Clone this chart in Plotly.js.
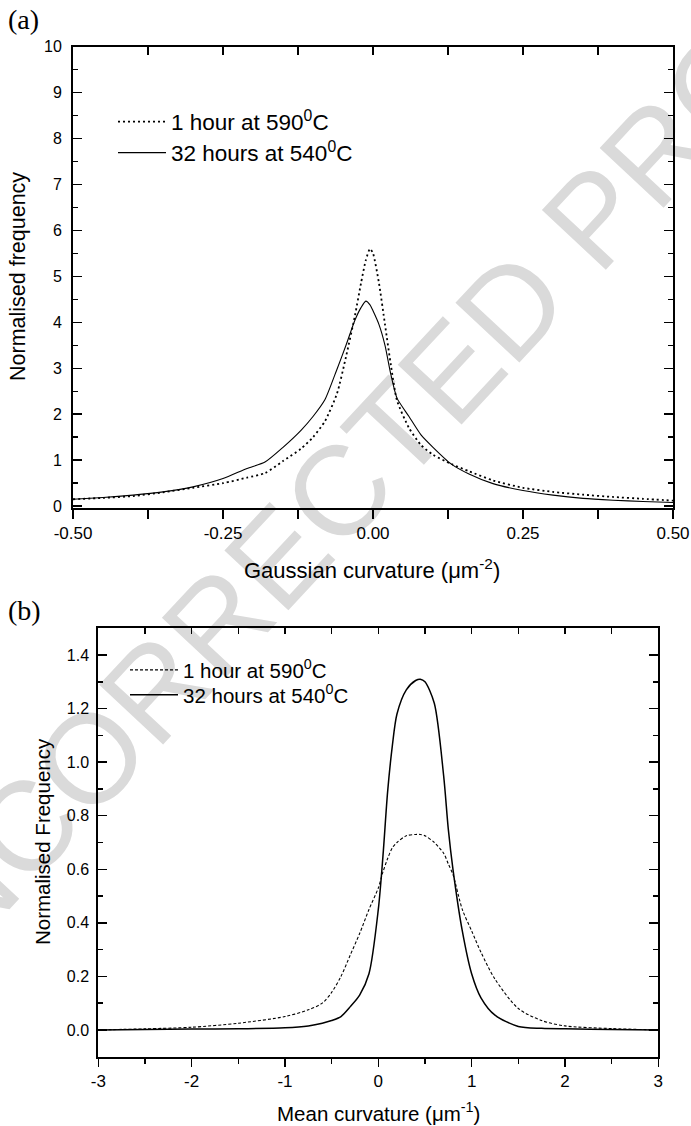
<!DOCTYPE html>
<html>
<head>
<meta charset="utf-8">
<script src="https://cdn.plot.ly/plotly-3.0.1.min.js"></script>
<style>
html,body{margin:0;padding:0;background:#ffffff;}
#chart{width:691px;height:1126px;}
</style>
</head>
<body>
<div id="chart"></div>
<script>
// ---------- Panel (a): Gaussian curvature ----------
const gaussX = [-0.5,-0.45,-0.4,-0.35,-0.3,-0.25,-0.21,-0.18,-0.15,-0.12,-0.1,-0.08,-0.06,-0.045,-0.03,-0.02,-0.012,-0.005,0,0.01,0.02,0.03,0.04,0.06,0.08,0.1,0.13,0.16,0.2,0.25,0.3,0.35,0.4,0.45,0.5];
const gauss1h590 = [0.15,0.18,0.22,0.30,0.40,0.50,0.62,0.72,0.98,1.25,1.50,1.85,2.45,3.25,4.15,4.85,5.35,5.60,5.50,4.85,3.95,3.05,2.30,1.70,1.33,1.12,0.92,0.76,0.56,0.40,0.31,0.25,0.20,0.16,0.12];
const gauss32h540 = [0.15,0.19,0.24,0.31,0.42,0.60,0.82,0.96,1.28,1.65,1.95,2.32,2.98,3.50,4.05,4.32,4.46,4.38,4.25,3.95,3.50,2.85,2.35,1.95,1.55,1.28,0.92,0.70,0.49,0.34,0.24,0.17,0.13,0.10,0.08];
const gaussTickVals = [-0.5,-0.25,0,0.25,0.5];
const gaussTickText = ['-0.50','-0.25','0.00','0.25','0.50'];
const gaussTopTickVals = [-0.5,-0.375,-0.25,-0.125,0,0.125,0.25,0.375,0.5];
const gaussYTickVals = [0,1,2,3,4,5,6,7,8,9,10];
const gaussYTickText = ['0','1','2','3','4','5','6','7','8','9','10'];

// ---------- Panel (b): Mean curvature ----------
const meanX = [-3,-2.5,-2,-1.5,-1,-0.75,-0.6,-0.5,-0.4,-0.3,-0.2,-0.1,0,0.05,0.1,0.15,0.2,0.3,0.4,0.45,0.5,0.6,0.7,0.75,0.8,0.9,1.0,1.1,1.25,1.5,1.75,2,2.5,3];
const mean1h590 = [0.0,0.004,0.01,0.025,0.05,0.075,0.10,0.14,0.20,0.28,0.36,0.45,0.53,0.59,0.64,0.68,0.70,0.725,0.73,0.73,0.725,0.70,0.66,0.62,0.58,0.45,0.37,0.29,0.19,0.08,0.035,0.015,0.005,0.0];
const mean32h540 = [0.0,0.002,0.003,0.004,0.008,0.015,0.025,0.035,0.05,0.087,0.13,0.21,0.45,0.65,0.89,1.06,1.18,1.27,1.305,1.31,1.30,1.22,0.95,0.75,0.60,0.37,0.21,0.12,0.055,0.013,0.006,0.004,0.002,0.0];
const meanTickVals = [-3,-2,-1,0,1,2,3];
const meanTickText = ['-3','-2','-1','0','1','2','3'];
const meanTopTickVals = [-3,-2.5,-2,-1.5,-1,-0.5,0,0.5,1,1.5,2,2.5,3];
const meanYTickVals = [0,0.2,0.4,0.6,0.8,1.0,1.2,1.4];
const meanYTickText = ['0.0','0.2','0.4','0.6','0.8','1.0','1.2','1.4'];

const seriesNames = ['1 hour at 590<sup>0</sup>C', '32 hours at 540<sup>0</sup>C'];

// ---------- layout helpers (pixel -> paper) ----------
const W = 691, H = 1126;
const px = v => v / W;
const py = v => 1 - v / H;
const FONT = 'Liberation Sans, Arial, Helvetica, sans-serif';
const SERIF = 'Liberation Serif, Times New Roman, serif';

const traces = [
  {x: gaussX, y: gauss1h590, xaxis:'x', yaxis:'y', type:'scatter', mode:'lines', name: seriesNames[0],
   line:{color:'#000', width:1.8, dash:'2px,3px', shape:'spline', smoothing:0.6}, legend:'legend', hoverinfo:'skip'},
  {x: gaussX, y: gauss32h540, xaxis:'x', yaxis:'y', type:'scatter', mode:'lines', name: seriesNames[1],
   line:{color:'#000', width:1.1, shape:'spline', smoothing:0.6}, legend:'legend2', hoverinfo:'skip'},
  {x: meanX, y: mean1h590, xaxis:'x2', yaxis:'y2', type:'scatter', mode:'lines', name: seriesNames[0],
   line:{color:'#000', width:1.1, dash:'3px,2px', shape:'spline', smoothing:0.8}, legend:'legend3', hoverinfo:'skip'},
  {x: meanX, y: mean32h540, xaxis:'x2', yaxis:'y2', type:'scatter', mode:'lines', name: seriesNames[1],
   line:{color:'#000', width:1.5, shape:'spline', smoothing:0.8}, legend:'legend4', hoverinfo:'skip'},
  // empty carriers for the top (inward-tick) axes
  {x: [], y: [], xaxis:'x3', yaxis:'y', type:'scatter', mode:'lines', showlegend:false, hoverinfo:'skip'},
  {x: [], y: [], xaxis:'x4', yaxis:'y2', type:'scatter', mode:'lines', showlegend:false, hoverinfo:'skip'}
];

const baseAxis = {showgrid:false, zeroline:false, showline:true, linecolor:'#000', linewidth:2,
                  tickcolor:'#000', tickwidth:1.5, fixedrange:true};

const legendBase = {bgcolor:'rgba(0,0,0,0)', borderwidth:0, xanchor:'left', yanchor:'middle',
                    itemwidth:48, tracegroupgap:0};

const layout = {
  width: W, height: H,
  margin: {l:0, r:0, t:0, b:0, pad:0},
  paper_bgcolor: '#ffffff',
  plot_bgcolor: 'rgba(0,0,0,0)',
  font: {family: FONT, color:'#000'},
  xaxis: Object.assign({}, baseAxis, {
    domain:[px(73), px(673)], range:[-0.5,0.5], anchor:'y',
    tickmode:'array', tickvals: gaussTickVals, ticktext: gaussTickText,
    ticks:'outside', ticklen:9, mirror:true, tickfont:{family:FONT, size:17, color:'#000'},
    minor:{tickmode:'linear', tick0:-0.5, dtick:0.125, ticks:'outside', ticklen:9, tickwidth:1.5, tickcolor:'#000', showgrid:false}
  }),
  xaxis3: {overlaying:'x', anchor:'y', side:'top', range:[-0.5,0.5], tickmode:'array', tickvals: gaussTopTickVals,
    ticks:'inside', ticklen:8, tickwidth:1.5, tickcolor:'#000', showticklabels:false, showline:false,
    showgrid:false, zeroline:false, fixedrange:true},
  yaxis: Object.assign({}, baseAxis, {
    domain:[py(508), py(46.5)], range:[-0.04,10], anchor:'x',
    tickmode:'array', tickvals: gaussYTickVals, ticktext: gaussYTickText,
    ticks:'inside', ticklen:9, mirror:'ticks', ticklabelstandoff:6, tickfont:{family:FONT, size:16, color:'#000'},
    minor:{tickmode:'linear', tick0:0, dtick:0.5, ticks:'inside', ticklen:5, tickwidth:1.5, tickcolor:'#000', showgrid:false}
  }),
  xaxis2: Object.assign({}, baseAxis, {
    domain:[px(98.3), px(658.3)], range:[-3,3], anchor:'y2',
    tickmode:'array', tickvals: meanTickVals, ticktext: meanTickText,
    ticks:'outside', ticklen:8, mirror:true, tickfont:{family:FONT, size:17, color:'#000'},
    minor:{tickmode:'linear', tick0:0, dtick:0.5, ticks:'outside', ticklen:5, tickwidth:1.5, tickcolor:'#000', showgrid:false}
  }),
  xaxis4: {overlaying:'x2', anchor:'y2', side:'top', range:[-3,3], tickmode:'array', tickvals: meanTopTickVals,
    ticks:'inside', ticklen:6, tickwidth:1.5, tickcolor:'#000', showticklabels:false, showline:false,
    showgrid:false, zeroline:false, fixedrange:true},
  yaxis2: Object.assign({}, baseAxis, {
    domain:[py(1056.7), py(628.3)], range:[-0.1,1.5], anchor:'x2',
    tickmode:'array', tickvals: meanYTickVals, ticktext: meanYTickText,
    ticks:'inside', ticklen:9, mirror:'ticks', ticklabelstandoff:4, tickfont:{family:FONT, size:16, color:'#000'},
    minor:{tickmode:'linear', tick0:0, dtick:0.1, ticks:'inside', ticklen:5, tickwidth:1.5, tickcolor:'#000', showgrid:false}
  }),
  legend:  Object.assign({}, legendBase, {x: px(113), y: py(122), font:{family:FONT, size:22.5, color:'#000'}}),
  legend2: Object.assign({}, legendBase, {x: px(113), y: py(153), font:{family:FONT, size:22.5, color:'#000'}}),
  legend3: Object.assign({}, legendBase, {x: px(125), y: py(670), font:{family:FONT, size:20.5, color:'#000'}}),
  legend4: Object.assign({}, legendBase, {x: px(125), y: py(695), font:{family:FONT, size:20.5, color:'#000'}}),
  shapes: [{
    type:'rect', xref:'paper', yref:'paper', layer:'below',
    x0: px(362), x1: px(364), y0: py(449), y1: py(447),
    line:{width:0}, fillcolor:'rgba(0,0,0,0)',
    label:{text:'UNCORRECTED PROOF', textangle:-47, textposition:'middle center',
           font:{family:FONT, size:127, color:'#dadada'}}
  }],
  annotations: [
    {text:'(a)', xref:'paper', yref:'paper', x: px(6), y: py(20), xanchor:'left', yanchor:'middle',
     showarrow:false, font:{family:SERIF, size:28, color:'#000'}},
    {text:'(b)', xref:'paper', yref:'paper', x: px(6), y: py(610), xanchor:'left', yanchor:'middle',
     showarrow:false, font:{family:SERIF, size:28, color:'#000'}},
    {text:'Gaussian curvature (\u03bcm<sup>-2</sup>)', xref:'paper', yref:'paper', x: px(372), y: py(569),
     xanchor:'center', yanchor:'middle', showarrow:false, font:{family:FONT, size:22, color:'#000'}},
    {text:'Normalised frequency', xref:'paper', yref:'paper', x: px(18), y: py(277), textangle:-90,
     xanchor:'center', yanchor:'middle', showarrow:false, font:{family:FONT, size:21.5, color:'#000'}},
    {text:'Mean curvature (\u03bcm<sup>-1</sup>)', xref:'paper', yref:'paper', x: px(378), y: py(1112),
     xanchor:'center', yanchor:'middle', showarrow:false, font:{family:FONT, size:20.5, color:'#000'}},
    {text:'Normalised Frequency', xref:'paper', yref:'paper', x: px(42), y: py(842), textangle:-90,
     xanchor:'center', yanchor:'middle', showarrow:false, font:{family:FONT, size:20.5, color:'#000'}}
  ],
  showlegend: true
};

Plotly.newPlot('chart', traces, layout, {displayModeBar:false, staticPlot:true});
</script>
</body>
</html>
